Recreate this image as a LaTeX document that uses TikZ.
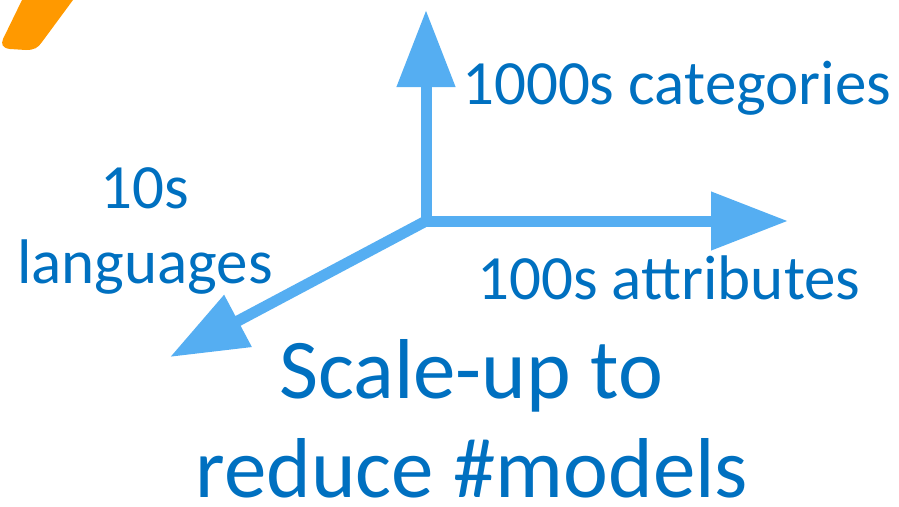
\documentclass[tikz,border=0pt]{standalone}
\usepackage{fontspec}
\setmainfont{Carlito}
\usetikzlibrary{arrows.meta}
\definecolor{axisblue}{HTML}{55AEF2}
\definecolor{textblue}{HTML}{0070C0}
\definecolor{logoorange}{HTML}{FF9900}
\tikzset{
  axis/.style={axisblue, line width=11pt, -{Triangle[length=77pt,width=56pt]}},
  lbl/.style={textblue, inner sep=0pt, anchor=base, font=\fontsize{63}{75}\selectfont},
  big/.style={textblue, inner sep=0pt, anchor=base, font=\fontsize{85}{100}\selectfont}
}
\begin{document}
\begin{tikzpicture}[x=1pt,y=-1pt]
\useasboundingbox (0,0) rectangle (899,506);
\fill[logoorange] (22,0) -- (73,0) -- (42,42) .. controls (38,48) and (34,50) .. (26,50)
  -- (10,49) .. controls (2,48) and (1,44) .. (3,39) -- cycle;

\coordinate (origin) at (426,221);
\coordinate (up) at (426,10);
\coordinate (right) at (788,221);
\coordinate (down) at (170,357);
\draw[axis] (origin) -- (up);
\draw[axis] (origin) -- (right);
\draw[axis] (origin) -- (down);

\node[lbl, anchor=base west] (cat) at (462,104) {1000s categories};
\node[lbl, anchor=base west] (attr) at (477,299) {100s attributes};
\node[lbl] (ten) at (145,208) {10s};
\node[lbl] (lang) at (145,283) {languages};
\node[big] (scale) at (471,398) {Scale-up to};
\node[big] (reduce) at (472,497) {reduce \#models};
\end{tikzpicture}
\end{document}
